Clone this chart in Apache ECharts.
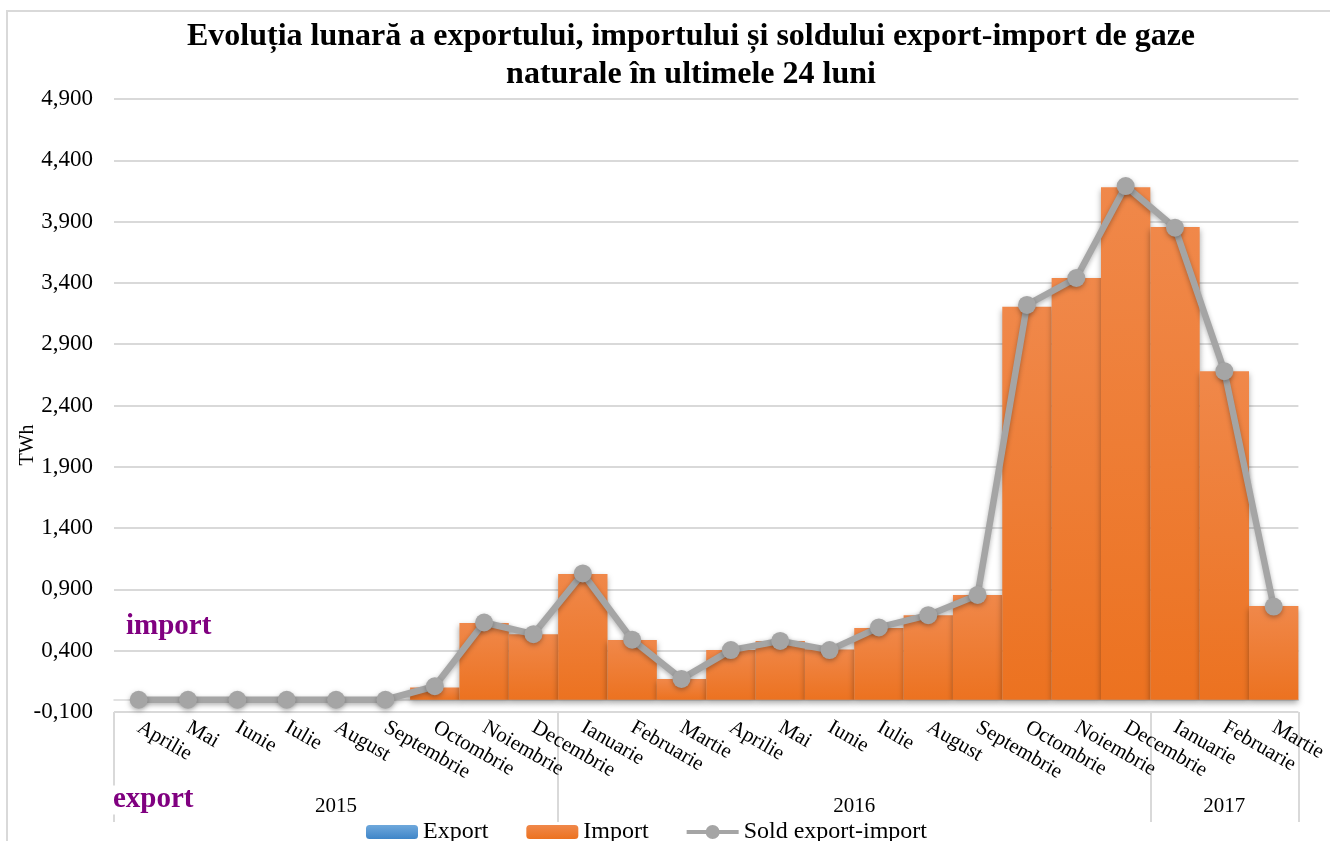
<!DOCTYPE html>
<html><head><meta charset="utf-8">
<script src="https://cdn.jsdelivr.net/npm/echarts@6/dist/echarts.min.js"></script>
<style>html,body{margin:0;padding:0;background:#fff}#c{width:1330px;height:841px}</style>
</head><body><div id="c"></div>
<script>
const months = ['Aprilie','Mai','Iunie','Iulie','August','Septembrie','Octombrie','Noiembrie','Decembrie','Ianuarie','Februarie','Martie','Aprilie','Mai','Iunie','Iulie','August','Septembrie','Octombrie','Noiembrie','Decembrie','Ianuarie','Februarie','Martie'];
const years = ['2015', '2016', '2017'];
const monthsPerYear = [9, 12, 3];
const exportVals = [0,0,0,0,0,0,0,0,0,0,0,0,0,0,0,0,0,0,0,0,0,0,0,0];
const importVals = [0,0,0,0,0,0,0.10,0.625,0.535,1.025,0.487,0.17,0.405,0.48,0.41,0.585,0.69,0.855,3.205,3.44,4.18,3.855,2.68,0.765];
const soldVals = [0,0,0,0,0,0,0.11,0.63,0.535,1.03,0.49,0.17,0.405,0.48,0.405,0.59,0.69,0.855,3.22,3.44,4.19,3.85,2.68,0.76];
const yTicks = [-0.1,0.4,0.9,1.4,1.9,2.4,2.9,3.4,3.9,4.4,4.9];

const FONT = "'Liberation Serif','Times New Roman',serif";
const bounds = [0]; monthsPerYear.forEach(n => bounds.push(bounds[bounds.length-1] + n));
const centers = monthsPerYear.map((n, i) => bounds[i] + n / 2);
const fmt = v => v.toFixed(3).replace('.', ',');
const lineIcon = 'path://M0,5L52,5L52,9L0,9Z M19,7a7,7 0 1,1 14,0a7,7 0 1,1 -14,0Z';

const chart = echarts.init(document.getElementById('c'));
chart.setOption({
  backgroundColor: '#fff',
  animation: false,
  title: {
    text: 'Evoluția lunară a exportului, importului și soldului export-import de gaze\nnaturale în ultimele 24 luni',
    left: 691, top: 18, padding: 0, textAlign: 'center',
    textStyle: {fontFamily: FONT, fontWeight: 'bold', fontSize: 32, lineHeight: 38, color: '#000'}
  },
  legend: {
    left: 361, top: 815, itemWidth: 52, itemHeight: 14, itemGap: 38,
    textStyle: {fontFamily: FONT, fontSize: 24, color: '#000'},
    data: ['Export', 'Import', {name: 'Sold export-import', icon: lineIcon, itemStyle: {color: '#A5A5A5'}}]
  },
  grid: {left: 114, right: 30, top: 99, bottom: 129, containLabel: false},
  xAxis: [{
    type: 'category', data: months, boundaryGap: true,
    axisLine: {onZero: true, lineStyle: {color: '#d9d9d9', width: 1.5}},
    axisTick: {show: false},
    axisLabel: {rotate: -30, margin: 14, fontFamily: FONT, fontSize: 21, color: '#000', interval: 0}
  }, {
    type: 'value', min: 0, max: 24, position: 'bottom',
    axisLine: {show: false, onZero: false},
    splitLine: {show: false},
    axisTick: {show: true, customValues: bounds, length: 110, lineStyle: {color: '#d9d9d9', width: 2}},
    axisLabel: {customValues: centers, margin: 84, fontFamily: FONT, fontSize: 21, color: '#000',
      formatter: v => years[centers.indexOf(v)] || ''}
  }],
  yAxis: {
    type: 'value', min: -0.1, max: 4.9,
    axisLine: {show: false},
    axisTick: {show: false, customValues: yTicks},
    axisLabel: {customValues: yTicks, formatter: fmt, fontFamily: FONT, fontSize: 23, color: '#000', margin: 21},
    splitLine: {lineStyle: {color: '#d9d9d9', width: 2}}
  },
  graphic: [
    {type: 'rect', z: -10, silent: true, shape: {x: 7, y: 11, width: 1400, height: 900},
     style: {fill: 'none', stroke: '#d9d9d9', lineWidth: 2}},
    {type: 'text', x: 28, y: 445, rotation: Math.PI / 2,
     style: {text: 'TWh', font: "20px 'Liberation Serif'", fill: '#000', textAlign: 'center', textVerticalAlign: 'middle'}},
    {type: 'text', x: 126, y: 627, z: 100,
     style: {text: 'import', font: "bold 29px 'Liberation Serif'", fill: '#800080', textVerticalAlign: 'middle'}},
    {type: 'text', x: 113, y: 800, z: 100,
     style: {text: 'export', font: "bold 29px 'Liberation Serif'", fill: '#800080', textVerticalAlign: 'middle', backgroundColor: '#fff'}}
  ],
  series: [{
    name: 'Export', type: 'bar', data: exportVals, barCategoryGap: 0, barGap: '-100%',
    itemStyle: {color: new echarts.graphic.LinearGradient(0, 0, 0, 1, [{offset: 0, color: '#6FA8DC'}, {offset: 1, color: '#3F85C8'}])}
  }, {
    name: 'Import', type: 'bar', data: importVals, barCategoryGap: 0, barGap: '-100%',
    itemStyle: {
      color: new echarts.graphic.LinearGradient(0, 0, 0, 1, [{offset: 0, color: '#F0884A'}, {offset: 1, color: '#EC7220'}]),
      shadowBlur: 6, shadowColor: 'rgba(0,0,0,0.35)', shadowOffsetY: 3
    }
  }, {
    name: 'Sold export-import', type: 'line', data: soldVals, z: 5,
    symbol: 'circle', symbolSize: 18,
    lineStyle: {color: '#A5A5A5', width: 6.5, shadowBlur: 5, shadowColor: 'rgba(0,0,0,0.3)', shadowOffsetY: 2},
    itemStyle: {color: '#A5A5A5', shadowBlur: 5, shadowColor: 'rgba(0,0,0,0.3)', shadowOffsetY: 2}
  }]
});
</script></body></html>
